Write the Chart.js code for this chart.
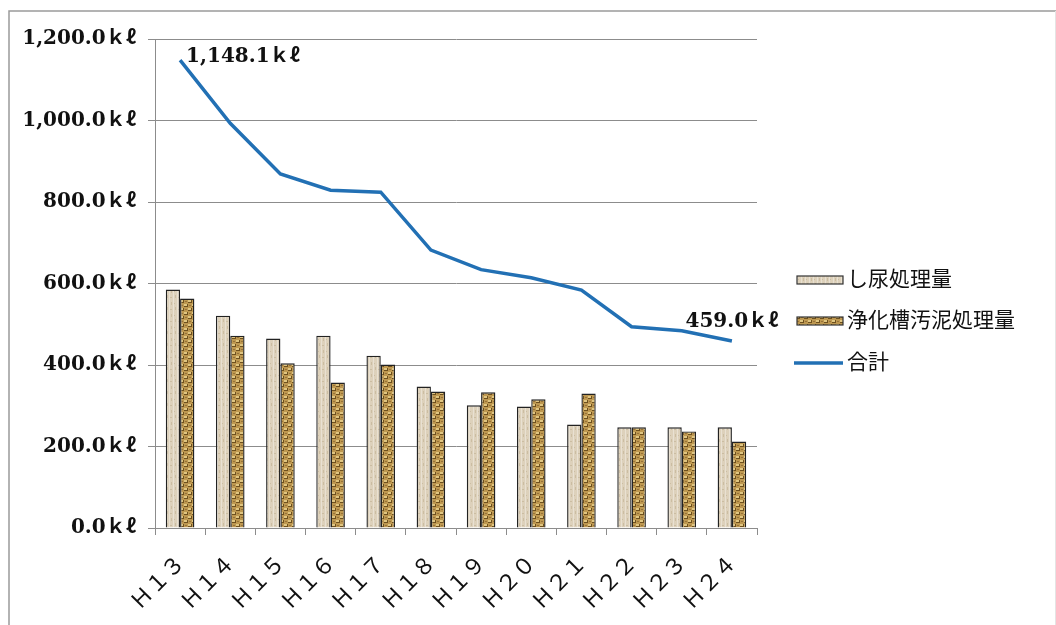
<!DOCTYPE html>
<html>
<head>
<meta charset="utf-8">
<script src="https://cdn.jsdelivr.net/npm/chart.js@4/dist/chart.umd.min.js"></script>
<style>
html,body{margin:0;padding:0;background:#fff;}
#wrap{width:1056px;height:625px;position:relative;}
</style>
</head>
<body>
<div id="wrap"><canvas id="c" width="1056" height="625"></canvas></div>
<script>
const categories = ['Ｈ１３','Ｈ１４','Ｈ１５','Ｈ１６','Ｈ１７','Ｈ１８','Ｈ１９','Ｈ２０','Ｈ２１','Ｈ２２','Ｈ２３','Ｈ２４'];
const seriesNames = ['し尿処理量','浄化槽汚泥処理量','合計'];
const shinyou = [585, 521, 465, 472, 423, 347, 301, 298, 254, 247, 247, 247];
const jokaso = [563.1, 472, 404, 357, 401, 335, 333, 316, 330, 247, 237, 212];
const total = [1148.1, 993, 869, 829, 824, 682, 634, 614, 584, 494, 484, 459.0];
const yTicks = [0, 200, 400, 600, 800, 1000, 1200];
const unit = 'ｋℓ';
const labelIndexes = [0, 11];

function fmt(v){
  return v.toLocaleString('en-US',{minimumFractionDigits:1, maximumFractionDigits:1}) + unit;
}

function makePattern1(){
  const c = document.createElement('canvas'); c.width = 8; c.height = 12;
  const g = c.getContext('2d');
  g.fillStyle = '#DDD1BB'; g.fillRect(0,0,8,12);
  g.fillStyle = '#E9E1D2'; g.fillRect(1,0,1,12); g.fillRect(5,0,1,12);
  g.fillStyle = '#CBBDA2'; g.fillRect(3,2,1,3); g.fillRect(7,7,1,3); g.fillRect(2,9,2,1); g.fillRect(6,3,1,1);
  return g.createPattern(c,'repeat');
}
function makePattern2(){
  const c = document.createElement('canvas'); c.width = 8; c.height = 8;
  const g = c.getContext('2d');
  g.fillStyle = '#BE9850'; g.fillRect(0,0,8,8);
  g.fillStyle = '#E0C682'; g.fillRect(0,0,3,2); g.fillRect(4,4,3,2);
  g.fillStyle = '#6E501E'; g.fillRect(0,2,4,1); g.fillRect(4,6,4,1); g.fillRect(3,0,1,3); g.fillRect(7,4,1,3);
  g.fillStyle = '#97733A'; g.fillRect(1,5,2,1); g.fillRect(5,1,2,1);
  return g.createPattern(c,'repeat');
}
const pat1 = makePattern1();
const pat2 = makePattern2();
const lineColor = '#2270B4';
const numFamily = "'DejaVu Serif', 'Noto Sans CJK JP', serif";
const tickFont = "bold 20px " + numFamily;

const framePlugin = {
  id: 'frame',
  beforeDraw(chart){
    const ctx = chart.ctx;
    ctx.save();
    ctx.fillStyle = '#fff'; ctx.fillRect(0,0,chart.width,chart.height);
    ctx.strokeStyle = '#9a9a9a'; ctx.lineWidth = 1.5;
    ctx.beginPath();
    ctx.moveTo(9, chart.height); ctx.lineTo(9, 11); ctx.lineTo(chart.width, 11);
    ctx.stroke();
    ctx.strokeStyle = '#e4e4e4'; ctx.lineWidth = 1;
    ctx.beginPath(); ctx.moveTo(1055.5, 11); ctx.lineTo(1055.5, chart.height); ctx.stroke();
    ctx.restore();
  }
};

const labelPlugin = {
  id: 'pointLabels',
  afterDatasetsDraw(chart){
    const ctx = chart.ctx;
    const meta = chart.getDatasetMeta(2);
    ctx.save();
    ctx.font = tickFont;
    ctx.fillStyle = '#111';
    ctx.textBaseline = 'middle';
    labelIndexes.forEach((i, k) => {
      const p = meta.data[i];
      const txt = fmt(total[i]);
      if (k === 0) { ctx.textAlign = 'left'; ctx.fillText(txt, p.x + 6, p.y - 3); }
      else { ctx.textAlign = 'center'; ctx.fillText(txt, p.x, p.y - 19); }
    });
    ctx.restore();
  }
};

const legendPlugin = {
  id: 'customLegend',
  afterDraw(chart){
    const ctx = chart.ctx;
    const x0 = 797, w = 46, rows = [280, 321, 363];
    ctx.save();
    ctx.font = "21px 'Noto Sans CJK JP', sans-serif";
    ctx.textBaseline = 'middle'; ctx.textAlign = 'left';
    chart.data.datasets.forEach((ds, i) => {
      const y = rows[i];
      if (ds.type === 'line') {
        ctx.strokeStyle = ds.borderColor; ctx.lineWidth = 3.5;
        ctx.beginPath(); ctx.moveTo(x0 - 3, y); ctx.lineTo(x0 + w, y); ctx.stroke();
      } else {
        ctx.fillStyle = ds.backgroundColor; ctx.fillRect(x0, y - 4, w, 8);
        ctx.strokeStyle = '#333'; ctx.lineWidth = 1.2; ctx.strokeRect(x0, y - 4, w, 8);
      }
      ctx.fillStyle = '#111';
      ctx.fillText(ds.label, x0 + w + 4, y - 2);
    });
    ctx.restore();
  }
};

new Chart(document.getElementById('c'), {
  data: {
    labels: categories,
    datasets: [
      { type: 'bar', label: seriesNames[0], data: shinyou, backgroundColor: pat1, borderColor: '#222', borderWidth: 1.4, order: 2 },
      { type: 'bar', label: seriesNames[1], data: jokaso, backgroundColor: pat2, borderColor: '#222', borderWidth: 1.4, order: 2 },
      { type: 'line', label: seriesNames[2], data: total, borderColor: lineColor, borderWidth: 3.5, pointRadius: 0, tension: 0, fill: false, order: 1 }
    ]
  },
  options: {
    responsive: false,
    animation: false,
    events: [],
    layout: { padding: { left: 0, right: 299, top: 39, bottom: 0 } },
    datasets: { bar: { categoryPercentage: 0.57, barPercentage: 1.0 } },
    plugins: { legend: { display: false }, tooltip: { enabled: false } },
    scales: {
      x: {
        offset: true,
        grid: { display: true, drawOnChartArea: false, drawTicks: true, tickLength: 7, color: '#8c8c8c', offset: true },
        border: { color: '#8c8c8c', width: 1 },
        ticks: { font: { family: "'Noto Sans CJK JP', sans-serif", size: 22 }, color: '#111', minRotation: 45, maxRotation: 45, padding: 14, autoSkip: false },
        afterFit(s){ s.height = 97; }
      },
      y: {
        min: 0, max: 1200,
        afterBuildTicks(s){ s.ticks = yTicks.map(v => ({ value: v })); },
        grid: { color: '#8c8c8c', drawTicks: true, tickLength: 7 },
        border: { color: '#8c8c8c', width: 1 },
        ticks: { font: { family: numFamily, size: 20, weight: 'bold' }, color: '#111', padding: 12, callback: v => fmt(v) },
        afterFit(s){ s.width = 155; }
      }
    }
  },
  plugins: [framePlugin, labelPlugin, legendPlugin]
});
</script>
</body>
</html>
